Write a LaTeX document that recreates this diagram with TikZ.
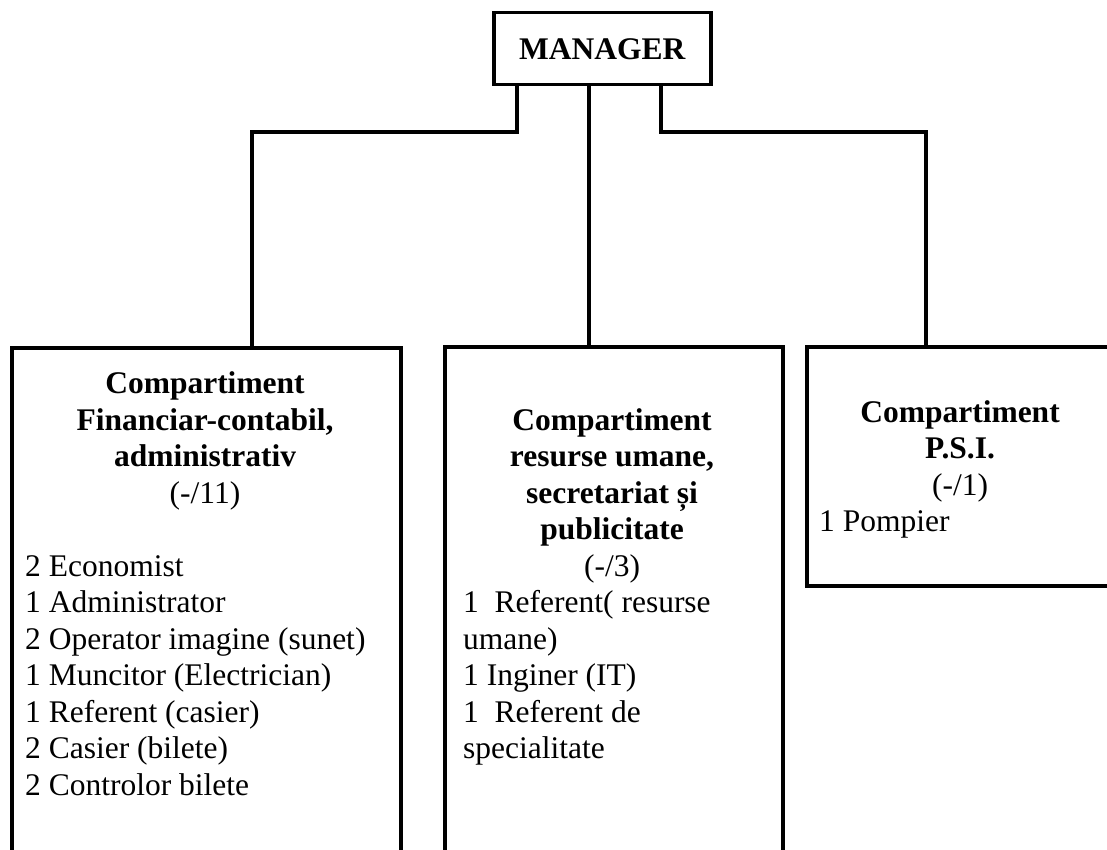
\documentclass[tikz,border=0pt]{standalone}
\usepackage{fontspec}
\setmainfont{Liberation Serif}
\begin{document}
\begin{tikzpicture}[x=1pt,y=-1pt,
  box/.style={draw=black,line width=3.5pt,inner sep=0pt,fill=none},
  conn/.style={draw=black,line width=3.5pt},
  txt/.style={inner sep=0pt,font=\fontsize{31.5}{36.5}\selectfont}]
\useasboundingbox (0,0) rectangle (1107,850);
\clip (0,0) rectangle (1107,850);
\fill[white] (0,0) rectangle (1107,850);
% boxes
\node[box,txt,anchor=north west,minimum width=217pt,minimum height=72pt] (mgr) at (492,11) {\bfseries MANAGER};
\node[box,anchor=north west,minimum width=389pt,minimum height=600pt] (fin) at (10,346) {};
\node[box,anchor=north west,minimum width=338pt,minimum height=600pt] (res) at (443,345) {};
\node[box,anchor=north west,minimum width=320pt,minimum height=239pt] (psi) at (805,345) {};
% connector helper coordinates
\coordinate (lx) at (517,0);
\coordinate (lb) at (252,0);
\coordinate (cx) at (589,0);
\coordinate (rx) at (661,0);
\coordinate (rb) at (926,0);
\coordinate (bar) at (0,132);
\draw[conn] (mgr.south -| lx) |- (bar -| lb) -- (fin.north -| lb);
\draw[conn] (mgr.south -| cx) -- (res.north -| cx);
\draw[conn] (mgr.south -| rx) |- (bar -| rb) -- (psi.north -| rb);
% left box texts
\foreach \t [count=\i from 0] in {{\bfseries Compartiment},{\bfseries Financiar-contabil,},{\bfseries administrativ},{(-/11)}}
  \node[txt,anchor=base] (fh\i) at (205,393.5+36.5*\i) {\t};
\foreach \t [count=\i from 0] in {{2 Economist},{1 Administrator},{2 Operator imagine (sunet)},{1 Muncitor (Electrician)},{1 Referent (casier)},{2 Casier (bilete)},{2 Controlor bilete}}
  \node[txt,anchor=base west] (fb\i) at (25,576+36.5*\i) {\t};
% middle box texts
\foreach \t [count=\i from 0] in {{\bfseries Compartiment},{\bfseries resurse umane,},{\bfseries secretariat și},{\bfseries publicitate},{(-/3)}}
  \node[txt,anchor=base] (rh\i) at (612,430+36.5*\i) {\t};
\foreach \t [count=\i from 0] in {{1~~Referent( resurse},{umane)},{1 Inginer (IT)},{1~~Referent de},{specialitate}}
  \node[txt,anchor=base west] (rbt\i) at (463,612.5+36.5*\i) {\t};
% right box texts
\foreach \t [count=\i from 0] in {{\bfseries Compartiment},{\bfseries P.S.I.},{(-/1)}}
  \node[txt,anchor=base] (ph\i) at (960,422+36.5*\i) {\t};
\node[txt,anchor=base west] (pb0) at (819,531.5) {1 Pompier};
\end{tikzpicture}
\end{document}
